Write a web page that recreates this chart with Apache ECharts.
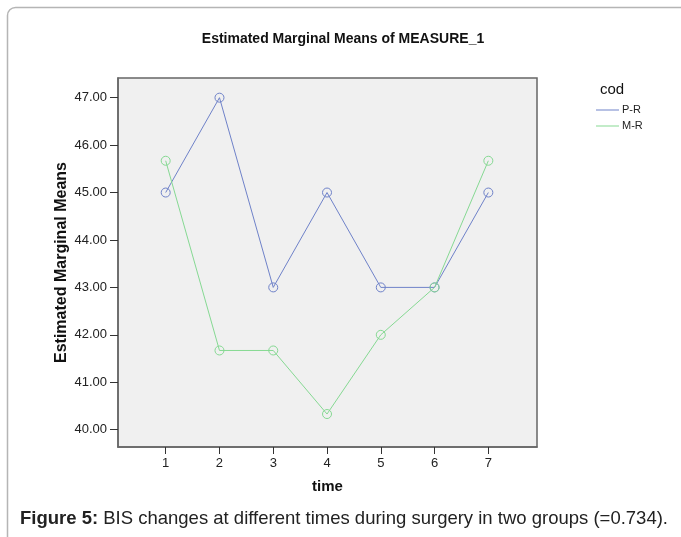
<!DOCTYPE html>
<html><head><meta charset="utf-8">
<script src="https://cdn.jsdelivr.net/npm/echarts@6/dist/echarts.min.js"></script>
<style>html,body{margin:0;padding:0;background:#fff}#c{width:681px;height:537px}</style>
</head><body><div id="c"></div>
<script>
const times = [1, 2, 3, 4, 5, 6, 7];
const seriesNames = ['P-R', 'M-R'];
const prValues = [45.00, 47.00, 43.00, 45.00, 43.00, 43.00, 45.00];
const mrValues = [45.67, 41.67, 41.67, 40.33, 42.00, 43.00, 45.67];
const yTicks = [40, 41, 42, 43, 44, 45, 46, 47];
const colors = ['#6f82c9', '#86d993'];

const chart = echarts.init(document.getElementById('c'), null, {renderer: 'canvas'});
const font = 'Arial, "Liberation Sans", sans-serif';
const mk = (vals) => times.map((t, i) => [t, vals[i]]);
chart.setOption({
  backgroundColor: '#fff',
  animation: false,
  title: [
    {text: 'Estimated Marginal Means of MEASURE_1', left: 338, top: 27, textAlign: 'center',
     textStyle: {fontFamily: font, fontSize: 14, fontWeight: 'bold', color: '#111'}},
    {text: '{b|Figure 5:} BIS changes at different times during surgery in two groups (=0.734).',
     left: 15, top: 504,
     textStyle: {fontFamily: font, fontSize: 18.5, fontWeight: 'normal', color: '#222',
       rich: {b: {fontFamily: font, fontSize: 18.5, fontWeight: 'bold', color: '#222'}}}}
  ],
  graphic: [
    {type: 'rect', shape: {x: 7.5, y: 7.5, width: 700, height: 600, r: 8}, style: {fill: 'none', stroke: '#b5b5b5', lineWidth: 1.5}, z: -1},
    {type: 'text', left: 600, top: 82, style: {text: 'cod', font: '15px ' + font, fill: '#111'}}
  ],
  legend: {
    orient: 'vertical', left: 591, top: 99.5, itemGap: 5, itemWidth: 23, itemHeight: 1,
    icon: 'rect',
    data: seriesNames.map((n, i) => ({name: n, itemStyle: {color: colors[i], borderWidth: 0}})),
    textStyle: {fontFamily: font, fontSize: 11, color: '#222', padding: [0, 0, 0, -2]}
  },
  grid: {left: 118, top: 78, width: 419, height: 369, show: true, backgroundColor: '#f0f0f0',
         borderColor: '#666', borderWidth: 1.5},
  xAxis: {
    type: 'value', min: 0.113, max: 7.905,
    name: 'time', nameLocation: 'middle', nameGap: 32, nameMoveOverlap: false,
    nameTextStyle: {fontFamily: font, fontSize: 15, fontWeight: 'bold', color: '#111'},
    axisLine: {show: true, onZero: false, lineStyle: {color: '#666', width: 1.5}},
    axisTick: {show: true, customValues: times, length: 7, lineStyle: {color: '#333'}},
    axisLabel: {customValues: times, fontFamily: font, fontSize: 13, color: '#222', margin: 10},
    splitLine: {show: false}
  },
  yAxis: {
    type: 'value', min: 39.635, max: 47.415,
    name: 'Estimated Marginal Means', nameLocation: 'middle', nameGap: 48, nameRotate: 90,
    nameMoveOverlap: false,
    nameTextStyle: {fontFamily: font, fontSize: 16, fontWeight: 'bold', color: '#111'},
    axisLine: {show: true, lineStyle: {color: '#666', width: 1.5}},
    axisTick: {show: true, customValues: yTicks, length: 8, lineStyle: {color: '#333'}},
    axisLabel: {customValues: yTicks, formatter: v => v.toFixed(2), fontFamily: font, fontSize: 13, color: '#222', margin: 11},
    splitLine: {show: false}
  },
  series: [
    {name: seriesNames[0], type: 'line', data: mk(prValues), symbol: 'circle', symbolSize: 9,
     color: colors[0], lineStyle: {width: 1, color: colors[0]},
     itemStyle: {color: 'rgba(0,0,0,0)', borderColor: colors[0], borderWidth: 1}},
    {name: seriesNames[1], type: 'line', data: mk(mrValues), symbol: 'circle', symbolSize: 9,
     color: colors[1], lineStyle: {width: 1, color: colors[1]},
     itemStyle: {color: 'rgba(0,0,0,0)', borderColor: colors[1], borderWidth: 1}}
  ]
});
</script></body></html>
